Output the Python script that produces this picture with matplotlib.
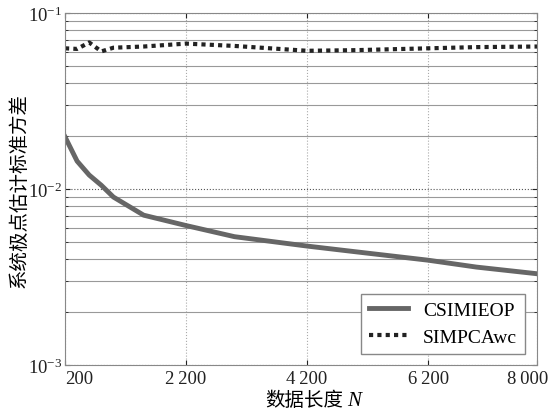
import numpy as np
import matplotlib
matplotlib.use("Agg")
import matplotlib.pyplot as plt
import matplotlib.transforms as mtransforms
from matplotlib.ticker import FixedLocator, LogLocator, NullFormatter

plt.rcParams['font.family'] = ['Liberation Serif', 'Noto Sans CJK SC']
plt.rcParams['mathtext.fontset'] = 'stix'

# data
N = [200, 400, 600, 800, 1000, 1500, 2200, 3000, 4200, 5000, 6200, 7000, 8000]
csimieop = [0.0198, 0.0144, 0.0120, 0.0105, 0.0090, 0.0071, 0.0062, 0.00536,
            0.00474, 0.0044, 0.00394, 0.0036, 0.0033]
simpcawc = [0.063, 0.0625, 0.068, 0.0605, 0.0635, 0.0645, 0.067, 0.065,
            0.061, 0.0615, 0.063, 0.064, 0.0645]
xticks = [200, 2200, 4200, 6200, 8000]
xticklabels = ['200', '2\u2009200', '4\u2009200', '6\u2009200', '8\u2009000']

fig = plt.figure(figsize=(5.5, 4.14), dpi=100)
ax = fig.add_axes([65 / 550, 48 / 414, 472 / 550, 352 / 414])

ax.plot(N, csimieop, color='#666666', lw=3.5, label='CSIMIEOP')
ax.plot(N, simpcawc, color='#222222', lw=3, ls=(0, (1, 1)), label='SIMPCAwc')

ax.set_yscale('log')
ax.set_ylim(1e-3, 1e-1)
ax.set_xlim(200, 8000)
ax.xaxis.set_major_locator(FixedLocator(xticks))
ax.set_xticklabels(xticklabels)
ax.yaxis.set_minor_locator(LogLocator(base=10, subs=np.arange(2, 10)))
ax.yaxis.set_minor_formatter(NullFormatter())

ax.grid(True, axis='x', which='major', ls=':', color='#aaaaaa', lw=0.8)
ax.grid(True, axis='y', which='minor', ls='-', color='#999999', lw=0.8)
ax.grid(True, axis='y', which='major', ls=':', color='#555555', lw=0.8)

ax.tick_params(which='both', direction='in', top=True, right=True,
               labelsize=13.5, colors='#222222')
ax.tick_params(which='minor', axis='x', length=0)
ax.tick_params(axis='y', pad=2)
for s in ax.spines.values():
    s.set_color('#888888')

# first and last x tick labels kept inside the figure
xlabs = ax.get_xticklabels()
xlabs[0].set_ha('left')
xlabs[-1].set_transform(xlabs[-1].get_transform() +
                        mtransforms.ScaledTranslation(-9 / 100, 0, fig.dpi_scale_trans))

ax.set_ylabel('系统极点估计标准方差', fontsize=14)
ax.yaxis.set_label_coords(-0.078, 0.5)
fig.text(265 / 550, 8 / 414, '数据长度', fontsize=14, ha='left', va='baseline')
fig.text(347 / 550, 8 / 414, 'N', fontsize=15, style='italic', ha='left', va='baseline')

leg = ax.legend(loc='lower right', bbox_to_anchor=(460 / 472, 11 / 352),
                borderaxespad=0, fontsize=14, fancybox=False, framealpha=1,
                edgecolor='#888888', handlelength=2.0)
leg.get_frame().set_linewidth(1.0)

fig.savefig('out.png', dpi=100)
